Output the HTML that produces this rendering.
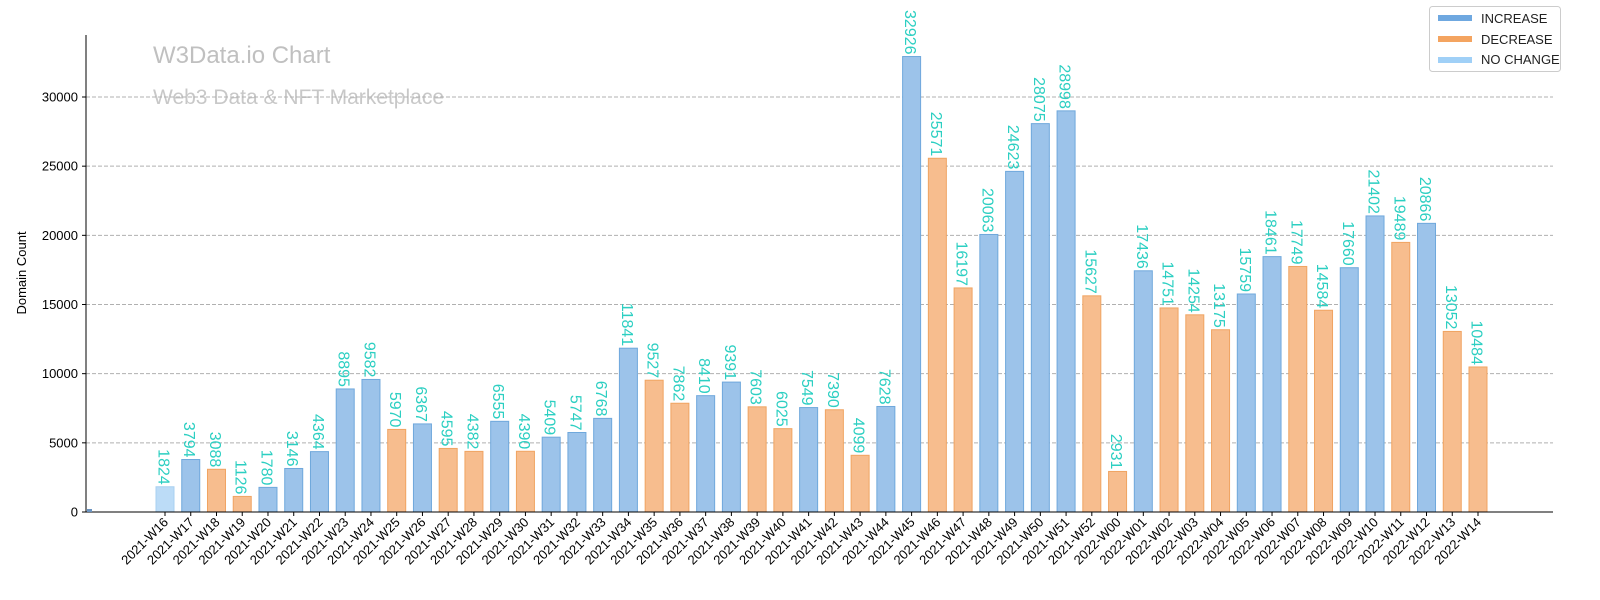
<!DOCTYPE html>
<html><head><meta charset="utf-8"><style>
body{margin:0;background:#fff;}
svg{display:block;font-family:"Liberation Sans","DejaVu Sans",sans-serif;}
</style></head><body>
<svg id="chart" width="1600" height="600">
<text x="153" y="63" font-size="24" fill="#c0c0c0">W3Data.io Chart</text>
<text x="153" y="104" font-size="21" fill="#c8c8c8">Web3 Data &amp; NFT Marketplace</text>
<g id="grid"></g><g id="bars"></g><g id="labels"></g><g id="xticks"></g><g id="yticks"></g>
<line x1="86" y1="35" x2="86" y2="512" stroke="#000" stroke-width="1"/>
<line x1="86" y1="512" x2="1553" y2="512" stroke="#000" stroke-width="1"/>
<text transform="translate(26,273) rotate(-90)" text-anchor="middle" font-size="13" fill="#000">Domain Count</text>
<g>
<rect x="1429.5" y="6.5" width="131" height="65" rx="3" fill="#fff" stroke="#ccc"/>
<rect x="1438" y="15" width="34" height="6" fill="#6fa8e0"/>
<text x="1481" y="23" font-size="13" fill="#222">INCREASE</text>
<rect x="1438" y="36" width="34" height="6" fill="#f4a460"/>
<text x="1481" y="44" font-size="13" fill="#222">DECREASE</text>
<rect x="1438" y="57" width="34" height="6" fill="#a0d0f7"/>
<text x="1481" y="64" font-size="13" fill="#222">NO CHANGE</text>
</g>
<rect x="87" y="509" width="5" height="3" fill="#6a93c0"/>
</svg>
<script>
const weeks=["2021-W16","2021-W17","2021-W18","2021-W19","2021-W20","2021-W21","2021-W22","2021-W23","2021-W24","2021-W25","2021-W26","2021-W27","2021-W28","2021-W29","2021-W30","2021-W31","2021-W32","2021-W33","2021-W34","2021-W35","2021-W36","2021-W37","2021-W38","2021-W39","2021-W40","2021-W41","2021-W42","2021-W43","2021-W44","2021-W45","2021-W46","2021-W47","2021-W48","2021-W49","2021-W50","2021-W51","2021-W52","2022-W00","2022-W01","2022-W02","2022-W03","2022-W04","2022-W05","2022-W06","2022-W07","2022-W08","2022-W09","2022-W10","2022-W11","2022-W12","2022-W13","2022-W14"];
const counts=[1824,3794,3088,1126,1780,3146,4364,8895,9582,5970,6367,4595,4382,6555,4390,5409,5747,6768,11841,9527,7862,8410,9391,7603,6025,7549,7390,4099,7628,32926,25571,16197,20063,24623,28075,28998,15627,2931,17436,14751,14254,13175,15759,18461,17749,14584,17660,21402,19489,20866,13052,10484];
const yTicks=[0,5000,10000,15000,20000,25000,30000];
const NS="http://www.w3.org/2000/svg";
const x0=165,step=(1478-165)/51,bw=18;
const xs=i=>x0+i*step;
const ys=v=>512-v*(415/30000);
function mk(t,a,p){const e=document.createElementNS(NS,t);for(const k in a)e.setAttribute(k,a[k]);p.appendChild(e);return e;}
const G=document.getElementById('grid'),B=document.getElementById('bars'),L=document.getElementById('labels'),XT=document.getElementById('xticks'),YT=document.getElementById('yticks');
yTicks.forEach(v=>{
 if(v>0){const g=mk('line',{x1:86,x2:1553,y1:ys(v),y2:ys(v),stroke:'#b0b0b0','stroke-dasharray':'4,2'},G);
 
 }
 mk('line',{x1:82,x2:86,y1:ys(v),y2:ys(v),stroke:'#000'},YT);
 const t=mk('text',{x:78,y:ys(v)+4.5,'text-anchor':'end','font-size':13,fill:'#000'},YT);t.textContent=v;
 
 
});
counts.forEach((v,i)=>{
 let fill,stroke;
 if(i===0||v===counts[i-1]){fill='#bcdcf7';stroke='#a8d0f0';}
 else if(v>counts[i-1]){fill='#9cc3ea';stroke='#6fa8dc';}
 else{fill='#f7bd8e';stroke='#f0a462';}
 const r=mk('rect',{x:xs(i)-bw/2,y:ys(v),width:bw,height:512-ys(v),fill:fill,stroke:stroke,'stroke-width':1},B);
 
 
 const t=mk('text',{transform:`translate(${xs(i)-2},${ys(v)-2}) rotate(90)`,'text-anchor':'end','dominant-baseline':'central','font-size':16,fill:'#2ccfc2'},L);
 t.textContent=v;
 
 
 mk('line',{x1:xs(i),x2:xs(i),y1:512,y2:516,stroke:'#000'},XT);
 const xl=mk('text',{transform:`translate(${xs(i)+4},${523}) rotate(-45)`,'text-anchor':'end','font-size':13,fill:'#000'},XT);
 xl.textContent=weeks[i];
 
 
});
</script>
</body></html>
